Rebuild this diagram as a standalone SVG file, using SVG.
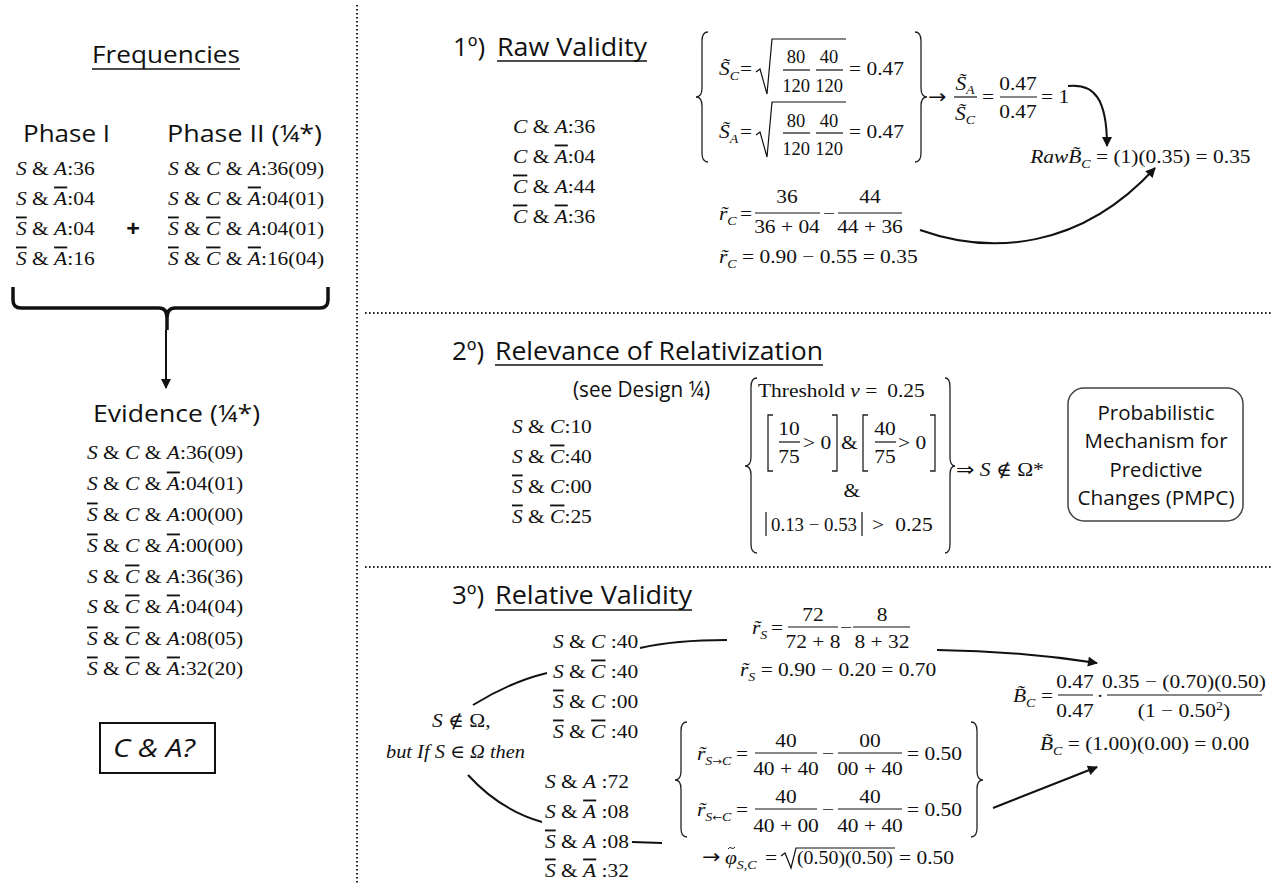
<svg xmlns="http://www.w3.org/2000/svg" width="1272" height="884" viewBox="0 0 1272 884">
<defs>
<style>
text{fill:#111}
.h{font-family:"Open Sans","Liberation Sans",sans-serif;font-size:24px}
.h2{font-family:"Open Sans","Liberation Sans",sans-serif;font-size:26px}
.hs{font-family:"Open Sans","Liberation Sans",sans-serif;font-size:20px;text-anchor:middle}
.m,.mc{font-family:"Liberation Serif","DejaVu Serif",serif;font-size:18.5px;transform-box:fill-box;transform:scaleX(1.16)}
.m{transform-origin:0 50%}
.mc{text-anchor:middle;transform-origin:50% 50%}
.mn{font-family:"Liberation Serif","DejaVu Serif",serif;font-size:18.5px;text-anchor:middle}
.ms{font-family:"Liberation Serif","DejaVu Serif",serif;font-size:18.5px}
.m0{font-family:"Liberation Serif","DejaVu Serif",serif;font-size:18.5px;font-style:italic}
.ar{font-family:"DejaVu Sans",sans-serif;font-size:19px;font-style:normal}
.ars{font-family:"DejaVu Sans",sans-serif;font-size:10px;font-style:normal}
.i{font-style:italic}
.o{text-decoration:overline}
.sb{font-size:12px;font-style:italic}
.ln{stroke:#111;stroke-width:1.2;fill:none}
.br{stroke:#222;stroke-width:1.3;fill:none}
.ul{stroke:#111;stroke-width:1.6}
.dot{stroke:#222;stroke-width:2;stroke-dasharray:1.6 2.4;fill:none}
.con{stroke:#111;stroke-width:2;fill:none}
</style>
<marker id="ah" viewBox="0 0 10 10" refX="9" refY="5" markerWidth="12" markerHeight="10" markerUnits="userSpaceOnUse" orient="auto"><path d="M0 0 L10 5 L0 10 z" fill="#111"/></marker>
</defs>
<rect width="1272" height="884" fill="#fff"/>

<g id="dividers">
<line class="dot" x1="357" y1="5" x2="357" y2="884"/>
<line class="dot" x1="365" y1="313" x2="1272" y2="313"/>
<line class="dot" x1="365" y1="567" x2="1272" y2="567"/>
</g>

<g id="frequencies">
<text class="h" x="92" y="63" textLength="148" lengthAdjust="spacingAndGlyphs">Frequencies</text>
<line class="ul" x1="92" y1="69" x2="240" y2="69"/>
</g>

<g id="phase1">
<text class="h" x="23" y="142" textLength="87" lengthAdjust="spacingAndGlyphs">Phase I</text>
<text class="m" x="16" y="175"><tspan class="i">S</tspan> &amp; <tspan class="i">A</tspan>:36</text>
<text class="m" x="16" y="205"><tspan class="i">S</tspan> &amp; <tspan class="i o">A</tspan>:04</text>
<text class="m" x="16" y="235"><tspan class="i o">S</tspan> &amp; <tspan class="i">A</tspan>:04</text>
<text class="m" x="16" y="265"><tspan class="i o">S</tspan> &amp; <tspan class="i o">A</tspan>:16</text>
</g>

<g id="plus">
<text x="133" y="237" text-anchor="middle" font-family="Open Sans, Liberation Sans, sans-serif" font-size="24" font-weight="bold">+</text>
</g>

<g id="phase2">
<text class="h" x="167" y="142" textLength="155" lengthAdjust="spacingAndGlyphs">Phase II (¼*)</text>
<text class="m" x="168" y="175"><tspan class="i">S</tspan> &amp; <tspan class="i">C</tspan> &amp; <tspan class="i">A</tspan>:36(09)</text>
<text class="m" x="168" y="205"><tspan class="i">S</tspan> &amp; <tspan class="i">C</tspan> &amp; <tspan class="i o">A</tspan>:04(01)</text>
<text class="m" x="168" y="235"><tspan class="i o">S</tspan> &amp; <tspan class="i o">C</tspan> &amp; <tspan class="i">A</tspan>:04(01)</text>
<text class="m" x="168" y="265"><tspan class="i o">S</tspan> &amp; <tspan class="i o">C</tspan> &amp; <tspan class="i o">A</tspan>:16(04)</text>
</g>

<g id="evidence">
<text class="h" x="93" y="422" textLength="167" lengthAdjust="spacingAndGlyphs">Evidence (¼*)</text>
<text class="m" x="87" y="459"><tspan class="i">S</tspan> &amp; <tspan class="i">C</tspan> &amp; <tspan class="i">A</tspan>:36(09)</text>
<text class="m" x="87" y="490"><tspan class="i">S</tspan> &amp; <tspan class="i">C</tspan> &amp; <tspan class="i o">A</tspan>:04(01)</text>
<text class="m" x="87" y="521"><tspan class="i o">S</tspan> &amp; <tspan class="i">C</tspan> &amp; <tspan class="i">A</tspan>:00(00)</text>
<text class="m" x="87" y="552"><tspan class="i o">S</tspan> &amp; <tspan class="i">C</tspan> &amp; <tspan class="i o">A</tspan>:00(00)</text>
<text class="m" x="87" y="583"><tspan class="i">S</tspan> &amp; <tspan class="i o">C</tspan> &amp; <tspan class="i">A</tspan>:36(36)</text>
<text class="m" x="87" y="613"><tspan class="i">S</tspan> &amp; <tspan class="i o">C</tspan> &amp; <tspan class="i o">A</tspan>:04(04)</text>
<text class="m" x="87" y="645"><tspan class="i o">S</tspan> &amp; <tspan class="i o">C</tspan> &amp; <tspan class="i">A</tspan>:08(05)</text>
<text class="m" x="87" y="675"><tspan class="i o">S</tspan> &amp; <tspan class="i o">C</tspan> &amp; <tspan class="i o">A</tspan>:32(20)</text>
</g>

<g id="question">
<rect x="100" y="723" width="115" height="50" fill="none" stroke="#111" stroke-width="2"/>
<text x="113" y="757" font-family="Open Sans, Liberation Sans, sans-serif" font-size="25" font-style="italic" textLength="82" lengthAdjust="spacingAndGlyphs">C &amp; A?</text>
</g>

<g id="s1-title">
<text class="h2" x="453" y="56">1º)</text>
<text class="h2" x="497" y="56" textLength="150" lengthAdjust="spacingAndGlyphs">Raw Validity</text>
<line class="ul" x1="497" y1="61" x2="647" y2="61"/>
</g>

<g id="s1-rows">
<text class="m" x="513" y="133"><tspan class="i">C</tspan> &amp; <tspan class="i">A</tspan>:36</text>
<text class="m" x="513" y="163"><tspan class="i">C</tspan> &amp; <tspan class="i o">A</tspan>:04</text>
<text class="m" x="513" y="193"><tspan class="i o">C</tspan> &amp; <tspan class="i">A</tspan>:44</text>
<text class="m" x="513" y="223"><tspan class="i o">C</tspan> &amp; <tspan class="i o">A</tspan>:36</text>
</g>

<g id="s1-specificity">
<path class="br" d="M708 32 Q702 32 702 41 V88 Q702 97 696 97 Q702 97 702 106 V153 Q702 162 708 162"/>
<path class="br" d="M915 32 Q921 32 921 41 V88 Q921 97 927 97 Q921 97 921 106 V153 Q921 162 915 162"/>
<text class="m" x="719" y="75"><tspan class="i">S&#x303;</tspan><tspan class="sb" dy="5">C</tspan></text>
<text class="m" x="740" y="75">=</text>
<path class="ln" d="M756 72 L760 69 L767 94 L772 39 H846"/>
<text class="mn" x="796" y="63">80</text>
<line class="ln" x1="783" y1="70" x2="810" y2="70"/>
<text class="mn" x="796" y="92">120</text>
<text class="mn" x="829" y="63">40</text>
<line class="ln" x1="816" y1="70" x2="843" y2="70"/>
<text class="mn" x="829" y="92">120</text>
<text class="m" x="849" y="75">= 0.47</text>

<text class="m" x="719" y="138"><tspan class="i">S&#x303;</tspan><tspan class="sb" dy="5">A</tspan></text>
<text class="m" x="740" y="138">=</text>
<path class="ln" d="M756 135 L760 132 L767 157 L772 102 H846"/>
<text class="mn" x="796" y="127">80</text>
<line class="ln" x1="783" y1="133" x2="810" y2="133"/>
<text class="mn" x="796" y="155">120</text>
<text class="mn" x="829" y="127">40</text>
<line class="ln" x1="816" y1="133" x2="843" y2="133"/>
<text class="mn" x="829" y="155">120</text>
<text class="m" x="849" y="138">= 0.47</text>

<text class="m" x="928" y="103"><tspan class="ar">→</tspan></text>
<text class="mc" x="965" y="90"><tspan class="i">S&#x303;</tspan><tspan class="sb" dy="4">A</tspan></text>
<line class="ln" x1="954" y1="97" x2="977" y2="97"/>
<text class="mc" x="965" y="120"><tspan class="i">S&#x303;</tspan><tspan class="sb" dy="4">C</tspan></text>
<text class="m" x="982" y="103">=</text>
<text class="mc" x="1018" y="90">0.47</text>
<line class="ln" x1="1000" y1="97" x2="1037" y2="97"/>
<text class="mc" x="1018" y="118">0.47</text>
<text class="m" x="1041" y="103">= 1</text>
</g>

<g id="s1-rawB">
<text class="m" x="1030" y="163"><tspan class="i">RawB&#x303;</tspan><tspan class="sb" dy="5">C</tspan><tspan dy="-5"> = (1)(0.35) = 0.35</tspan></text>
</g>

<g id="s1-rc">
<text class="m" x="719" y="220"><tspan class="i">r&#x303;</tspan><tspan class="sb" dy="5">C</tspan></text>
<text class="m" x="740" y="220">=</text>
<text class="mc" x="787" y="203">36</text>
<line class="ln" x1="755" y1="213" x2="820" y2="213"/>
<text class="mc" x="787" y="233">36 + 04</text>
<text class="mc" x="829" y="220">−</text>
<text class="mc" x="870" y="203">44</text>
<line class="ln" x1="838" y1="213" x2="902" y2="213"/>
<text class="mc" x="870" y="233">44 + 36</text>
<text class="m" x="719" y="263"><tspan class="i">r&#x303;</tspan><tspan class="sb" dy="5">C</tspan><tspan dy="-5"> = 0.90 − 0.55 = 0.35</tspan></text>
</g>

<g id="s2-title">
<text class="h2" x="452" y="360">2º)</text>
<text class="h2" x="495" y="360" textLength="328" lengthAdjust="spacingAndGlyphs">Relevance of Relativization</text>
<line class="ul" x1="495" y1="365" x2="823" y2="365"/>
<text x="573" y="397" font-family="Open Sans, Liberation Sans, sans-serif" font-size="21" textLength="137" lengthAdjust="spacingAndGlyphs">(see Design ¼)</text>
</g>

<g id="s2-rows">
<text class="m" x="512" y="433"><tspan class="i">S</tspan> &amp; <tspan class="i">C</tspan>:10</text>
<text class="m" x="512" y="463"><tspan class="i">S</tspan> &amp; <tspan class="i o">C</tspan>:40</text>
<text class="m" x="512" y="493"><tspan class="i o">S</tspan> &amp; <tspan class="i">C</tspan>:00</text>
<text class="m" x="512" y="523"><tspan class="i o">S</tspan> &amp; <tspan class="i o">C</tspan>:25</text>
</g>

<g id="s2-threshold">
<path class="br" d="M757 378 Q751 378 751 387 V457 Q751 466 745 466 Q751 466 751 475 V544 Q751 553 757 553"/>
<path class="br" d="M945 378 Q950 378 950 387 V457 Q950 466 955 466 Q950 466 950 475 V544 Q950 553 945 553"/>
<text class="m" x="758" y="397">Threshold <tspan class="i">v</tspan> = <tspan dx="4">0.25</tspan></text>
<path class="br" d="M773 415 H768 V471 H773"/>
<text class="mc" x="789" y="435">10</text>
<line class="ln" x1="779" y1="442" x2="800" y2="442"/>
<text class="mc" x="789" y="463">75</text>
<text class="m" x="803" y="449">&gt; 0</text>
<path class="br" d="M832 415 H837 V471 H832"/>
<text class="m" x="841" y="449">&amp;</text>
<path class="br" d="M868 415 H863 V471 H868"/>
<text class="mc" x="885" y="435">40</text>
<line class="ln" x1="875" y1="442" x2="896" y2="442"/>
<text class="mc" x="885" y="463">75</text>
<text class="m" x="898" y="449">&gt; 0</text>
<path class="br" d="M930 415 H935 V471 H930"/>
<text class="mc" x="852" y="497">&amp;</text>
<line class="ln" x1="766" y1="512" x2="766" y2="536"/>
<text class="ms" x="771" y="531" textLength="86" lengthAdjust="spacingAndGlyphs">0.13 − 0.53</text>
<line class="ln" x1="862" y1="512" x2="862" y2="536"/>
<text class="m" x="872" y="531">&gt; <tspan dx="5">0.25</tspan></text>
<text class="m" x="956" y="476"><tspan class="ar">⇒</tspan> <tspan class="i">S</tspan> ∉ Ω*</text>
</g>

<g id="pmpc">
<rect x="1068" y="388" width="175" height="133" rx="16" fill="none" stroke="#444" stroke-width="1.5"/>
<text class="hs" x="1156" y="420" textLength="117" lengthAdjust="spacingAndGlyphs">Probabilistic</text>
<text class="hs" x="1156" y="448" textLength="143" lengthAdjust="spacingAndGlyphs">Mechanism for</text>
<text class="hs" x="1156" y="477" textLength="93" lengthAdjust="spacingAndGlyphs">Predictive</text>
<text class="hs" x="1156" y="505" textLength="157" lengthAdjust="spacingAndGlyphs">Changes (PMPC)</text>
</g>

<g id="s3-title">
<text class="h2" x="452" y="604">3º)</text>
<text class="h2" x="495" y="604" textLength="197" lengthAdjust="spacingAndGlyphs">Relative Validity</text>
<line class="ul" x1="495" y1="610" x2="692" y2="610"/>
</g>

<g id="s3-condition">
<text class="m" x="432" y="727"><tspan class="i">S</tspan> ∉ Ω,</text>
<text class="m0" x="386" y="758" textLength="139" lengthAdjust="spacingAndGlyphs">but If S ∈ Ω then</text>
</g>

<g id="s3-rowsC">
<text class="m" x="553" y="648"><tspan class="i">S</tspan> &amp; <tspan class="i">C</tspan> :40</text>
<text class="m" x="553" y="678"><tspan class="i">S</tspan> &amp; <tspan class="i o">C</tspan> :40</text>
<text class="m" x="553" y="708"><tspan class="i o">S</tspan> &amp; <tspan class="i">C</tspan> :00</text>
<text class="m" x="553" y="738"><tspan class="i o">S</tspan> &amp; <tspan class="i o">C</tspan> :40</text>
</g>

<g id="s3-rowsA">
<text class="m" x="545" y="788"><tspan class="i">S</tspan> &amp; <tspan class="i">A</tspan> :72</text>
<text class="m" x="545" y="818"><tspan class="i">S</tspan> &amp; <tspan class="i o">A</tspan> :08</text>
<text class="m" x="545" y="848"><tspan class="i o">S</tspan> &amp; <tspan class="i">A</tspan> :08</text>
<text class="m" x="545" y="877"><tspan class="i o">S</tspan> &amp; <tspan class="i o">A</tspan> :32</text>
</g>

<g id="s3-rs">
<text class="m" x="752" y="634"><tspan class="i">r&#x303;</tspan><tspan class="sb" dy="5">S</tspan></text>
<text class="m" x="771" y="634">=</text>
<text class="mc" x="813" y="621">72</text>
<line class="ln" x1="788" y1="627" x2="838" y2="627"/>
<text class="mc" x="813" y="648">72 + 8</text>
<text class="mc" x="846" y="634">−</text>
<text class="mc" x="882" y="621">8</text>
<line class="ln" x1="853" y1="627" x2="910" y2="627"/>
<text class="mc" x="882" y="648">8 + 32</text>
<text class="m" x="740" y="676"><tspan class="i">r&#x303;</tspan><tspan class="sb" dy="5">S</tspan><tspan dy="-5"> = 0.90 − 0.20 = 0.70</tspan></text>
</g>

<g id="s3-rsc">
<path class="br" d="M687 722 Q681 722 681 731 V771 Q681 780 675 780 Q681 780 681 789 V828 Q681 837 687 837"/>
<path class="br" d="M971 722 Q977 722 977 731 V771 Q977 780 983 780 Q977 780 977 789 V828 Q977 837 971 837"/>
<text class="m" x="697" y="760"><tspan class="i">r&#x303;</tspan><tspan class="sb" dy="5">S<tspan class="ars">→</tspan>C</tspan></text>
<text class="m" x="736" y="760">=</text>
<text class="mc" x="786" y="747">40</text>
<line class="ln" x1="755" y1="753" x2="817" y2="753"/>
<text class="mc" x="786" y="775">40 + 40</text>
<text class="mc" x="828" y="760">−</text>
<text class="mc" x="870" y="747">00</text>
<line class="ln" x1="838" y1="753" x2="902" y2="753"/>
<text class="mc" x="870" y="775">00 + 40</text>
<text class="m" x="907" y="760">= 0.50</text>

<text class="m" x="697" y="816"><tspan class="i">r&#x303;</tspan><tspan class="sb" dy="5">S<tspan class="ars">←</tspan>C</tspan></text>
<text class="m" x="736" y="816">=</text>
<text class="mc" x="786" y="803">40</text>
<line class="ln" x1="755" y1="809" x2="817" y2="809"/>
<text class="mc" x="786" y="832">40 + 00</text>
<text class="mc" x="828" y="816">−</text>
<text class="mc" x="870" y="803">40</text>
<line class="ln" x1="838" y1="809" x2="902" y2="809"/>
<text class="mc" x="870" y="832">40 + 40</text>
<text class="m" x="907" y="816">= 0.50</text>
</g>

<g id="s3-phi">
<text class="m" x="702" y="863"><tspan class="ar">→</tspan></text>
<text class="m" x="725" y="864"><tspan class="i">φ</tspan><tspan class="sb" dy="5">S,C</tspan></text>
<path d="M728 849 q1.5 -2.5 3.5 -1 t3.5 -1" fill="none" stroke="#111" stroke-width="1"/>
<text class="m" x="765" y="864">=</text>
<path class="ln" d="M781 856 L785 853 L791 868 L796 848 H895"/>
<text class="ms" x="797" y="864" textLength="96" lengthAdjust="spacingAndGlyphs">(0.50)(0.50)</text>
<text class="m" x="899" y="864">= 0.50</text>
</g>

<g id="s3-B">
<text class="m" x="1013" y="702"><tspan class="i">B&#x303;</tspan><tspan class="sb" dy="5">C</tspan></text>
<text class="m" x="1041" y="702">=</text>
<text class="mc" x="1075" y="688">0.47</text>
<line class="ln" x1="1058" y1="695" x2="1093" y2="695"/>
<text class="mc" x="1075" y="717">0.47</text>
<text class="mc" x="1100" y="702">·</text>
<text class="mc" x="1184" y="688">0.35 − (0.70)(0.50)</text>
<line class="ln" x1="1107" y1="695" x2="1262" y2="695"/>
<text class="mc" x="1184" y="717">(1 − 0.50<tspan font-size="12" dy="-7">2</tspan><tspan dy="7">)</tspan></text>
<text class="m" x="1040" y="750"><tspan class="i">B&#x303;</tspan><tspan class="sb" dy="5">C</tspan><tspan dy="-5"> = (1.00)(0.00) = 0.00</tspan></text>
</g>

<g id="connectors">
<path d="M13 287 V300 Q13 308 21 308 H159 Q167 308 167 318 V330 M167 318 Q167 308 175 308 H320 Q328 308 328 300 V287" fill="none" stroke="#111" stroke-width="3.5"/>
<path class="con" d="M166 330 V388" stroke-width="1.5" marker-end="url(#ah)"/>
<path class="con" d="M1068 86 C1095 83 1107 100 1107 146" marker-end="url(#ah)"/>
<path class="con" d="M920 230 C990 255 1080 250 1155 168" marker-end="url(#ah)"/>
<path class="con" d="M473 705 Q510 682 547 673"/>
<path class="con" d="M468 775 Q500 810 542 822"/>
<path class="con" d="M640 648 Q675 640 727 640"/>
<path class="con" d="M632 842 L662 843"/>
<path class="con" d="M937 650 Q1020 651 1097 663" marker-end="url(#ah)"/>
<path class="con" d="M993 808 L1097 767" marker-end="url(#ah)"/>
</g>
</svg>
